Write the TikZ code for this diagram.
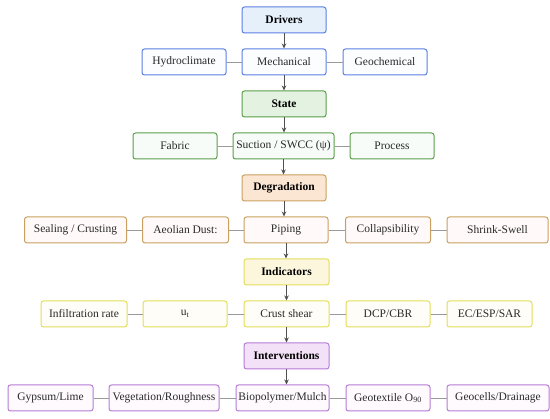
\documentclass[tikz,border=0pt]{standalone}
\usepackage{fontspec}
\setmainfont{Liberation Serif}
\usetikzlibrary{arrows.meta}
\definecolor{bluebd}{HTML}{5C7FE3}
\definecolor{bluefill}{HTML}{E6F0FB}
\definecolor{bluelf}{HTML}{FBFDFF}
\definecolor{greenbd}{HTML}{5A9E4A}
\definecolor{greenfill}{HTML}{E4F2E1}
\definecolor{greenlf}{HTML}{F7FCF8}
\definecolor{orangebd}{HTML}{C9A05E}
\definecolor{orangefill}{HTML}{FBE6D4}
\definecolor{orangelf}{HTML}{FFFAF9}
\definecolor{yellowbd}{HTML}{E2DE5A}
\definecolor{yellowfill}{HTML}{FCF6DC}
\definecolor{yellowlf}{HTML}{FFFDF7}
\definecolor{purplebd}{HTML}{B67BD6}
\definecolor{purplefill}{HTML}{F3E1F7}
\definecolor{purplelf}{HTML}{FFFAFE}
\definecolor{connc}{HTML}{9A9A9A}
\definecolor{arrc}{HTML}{505050}
\definecolor{txtc}{HTML}{2A2A2A}
\begin{document}
\begin{tikzpicture}[x=1pt,y=-1pt,
  box/.style={draw, rounded corners=2.5pt, line width=1pt, minimum height=26pt, inner sep=0pt,
    text=txtc, font=\fontsize{11.5}{13}\selectfont},
  head/.style={box, text=black, font=\fontsize{11.5}{13}\selectfont\bfseries},
  bh/.style={head, draw=bluebd, fill=bluefill},
  bl/.style={box, draw=bluebd, fill=bluelf},
  gh/.style={head, draw=greenbd, fill=greenfill},
  gl/.style={box, draw=greenbd, fill=greenlf},
  oh/.style={head, draw=orangebd, fill=orangefill},
  ol/.style={box, draw=orangebd, fill=orangelf},
  yh/.style={head, draw=yellowbd, fill=yellowfill},
  yl/.style={box, draw=yellowbd, fill=yellowlf},
  ph/.style={head, draw=purplebd, fill=purplefill},
  pl/.style={box, draw=purplebd, fill=purplelf},
  conn/.style={draw=connc, line width=0.9pt},
  arr/.style={draw=arrc, line width=0.8pt, -{Stealth[length=5pt,width=4.5pt]}}
]
\useasboundingbox (0,0) rectangle (550,419);

% Level 1
\node[bh, minimum width=84pt] (drv) at (284,20) {Drivers};
\node[bl, minimum width=84pt] (hyd) at (184,62) {Hydroclimate};
\node[bl, minimum width=84pt] (mec) at (284,62) {Mechanical};
\node[bl, minimum width=84pt] (geo) at (385,62) {Geochemical};

% Level 2
\node[gh, minimum width=84pt] (sta) at (284,104) {State};
\node[gl, minimum width=84pt] (fab) at (175,146) {Fabric};
\node[gl, minimum width=101pt] (suc) at (283.5,146) {Suction / SWCC (ψ)};
\node[gl, minimum width=84pt] (pro) at (392,146) {Process};

% Level 3
\node[oh, minimum width=84pt] (deg) at (284,188) {Degradation};
\node[ol, minimum width=102pt] (sea) at (75.5,230) {Sealing / Crusting};
\node[ol, minimum width=86pt] (aeo) at (185.5,230) {Aeolian Dust:};
\node[ol, minimum width=84pt] (pip) at (286,230) {Piping};
\node[ol, minimum width=85pt] (col) at (388,230) {Collapsibility};
\node[ol, minimum width=101pt] (shr) at (497.5,230) {Shrink-Swell};

% Level 4
\node[yh, minimum width=85pt] (ind) at (286.5,272) {Indicators};
\node[yl, minimum width=86pt] (inf) at (84,314) {Infiltration rate};
\node[yl, minimum width=84pt] (ut) at (185,314) {u\textsubscript{t}};
\node[yl, minimum width=85pt] (cru) at (286.5,314) {Crust shear};
\node[yl, minimum width=84pt] (dcp) at (388,314) {DCP/CBR};
\node[yl, minimum width=85pt] (ec) at (489.5,314) {EC/ESP/SAR};

% Level 5
\node[ph, minimum width=85pt] (int) at (286.5,356) {Interventions};
\node[pl, minimum width=85pt] (gyp) at (50.5,398) {Gypsum/Lime};
\node[pl, minimum width=110pt] (veg) at (164,398) {Vegetation/Roughness};
\node[pl, minimum width=93pt] (bio) at (282.5,398) {Biopolymer/Mulch};
\node[pl, minimum width=84pt] (gtx) at (388,398) {Geotextile O\textsubscript{90}};
\node[pl, minimum width=102pt] (gcl) at (498,398) {Geocells/Drainage};

% horizontal connectors
\draw[conn] (hyd.east) -- (mec.west);
\draw[conn] (mec.east) -- (geo.west);
\draw[conn] (fab.east) -- (suc.west);
\draw[conn] (suc.east) -- (pro.west);
\draw[conn] (sea.east) -- (aeo.west);
\draw[conn] (aeo.east) -- (pip.west);
\draw[conn] (pip.east) -- (col.west);
\draw[conn] (col.east) -- (shr.west);
\draw[conn] (inf.east) -- (ut.west);
\draw[conn] (ut.east) -- (cru.west);
\draw[conn] (cru.east) -- (dcp.west);
\draw[conn] (dcp.east) -- (ec.west);
\draw[conn] (gyp.east) -- (veg.west);
\draw[conn] (veg.east) -- (bio.west);
\draw[conn] (bio.east) -- (gtx.west);
\draw[conn] (gtx.east) -- (gcl.west);

% vertical arrows
\draw[arr] (drv.south) -- (drv.south |- mec.north);
\draw[arr] (mec.south) -- (mec.south |- sta.north);
\draw[arr] (sta.south) -- (sta.south |- suc.north);
\draw[arr] (suc.south) -- (suc.south |- deg.north);
\draw[arr] (deg.south) -- (deg.south |- pip.north);
\draw[arr] (pip.south) -- (pip.south |- ind.north);
\draw[arr] (ind.south) -- (ind.south |- cru.north);
\draw[arr] (cru.south) -- (cru.south |- int.north);
\draw[arr] (int.south) -- (int.south |- bio.north);
\end{tikzpicture}
\end{document}
